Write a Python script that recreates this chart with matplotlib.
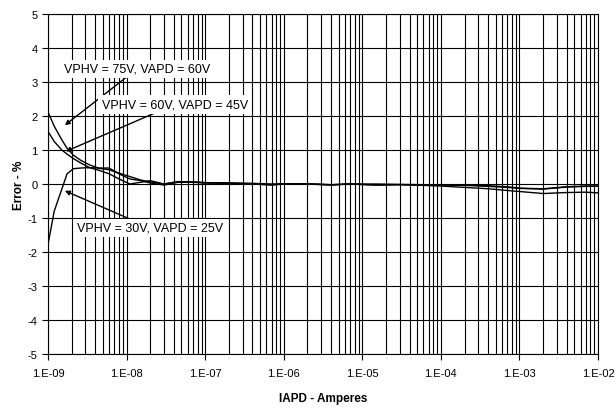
import matplotlib
matplotlib.use("Agg")
import matplotlib.pyplot as plt
from matplotlib.ticker import FixedLocator, FuncFormatter, NullFormatter
import numpy as np

plt.rcParams['font.family'] = ['Liberation Sans', 'DejaVu Sans']

current = [1.0e-9, 1.2e-9, 1.5e-9, 1.75e-9, 2.1e-9, 2.6e-9, 3.4e-9, 4.5e-9, 6e-9, 8e-9,
           1.1e-8, 1.5e-8, 2e-8, 3e-8, 4.5e-8, 7e-8, 1e-7, 2e-7, 4e-7, 7e-7,
           1e-6, 2e-6, 4e-6, 7e-6, 1.5e-5, 3e-5, 6e-5, 1e-4, 2e-4, 4e-4,
           7e-4, 1e-3, 2e-3, 4e-3, 7e-3, 1e-2]

err_75v = [2.12, 1.70, 1.30, 1.05, 0.85, 0.70, 0.56, 0.46, 0.42, 0.32,
           0.22, 0.12, 0.06, 0.0, 0.07, 0.06, 0.04, 0.03, 0.02, 0.0,
           0.01, 0.0, -0.03, 0.0, 0.0, -0.01, -0.02, -0.02, -0.03, -0.05,
           -0.08, -0.12, -0.14, -0.08, -0.06, -0.06]
err_60v = [1.55, 1.25, 1.0, 0.88, 0.75, 0.62, 0.48, 0.40, 0.30, 0.15,
           0.0, 0.05, 0.10, 0.0, 0.07, 0.06, 0.04, 0.03, 0.0, -0.03,
           0.0, 0.01, -0.02, 0.0, -0.03, -0.02, -0.04, -0.06, -0.10, -0.14,
           -0.19, -0.22, -0.28, -0.25, -0.24, -0.26]
err_30v = [-1.78, -0.80, -0.15, 0.30, 0.45, 0.47, 0.48, 0.47, 0.47, 0.30,
           0.15, 0.10, 0.03, -0.03, 0.05, 0.05, 0.03, 0.02, 0.01, -0.02,
           0.0, 0.0, -0.02, 0.0, -0.03, -0.02, -0.02, -0.03, -0.04, -0.07,
           -0.10, -0.13, -0.15, -0.09, -0.07, -0.06]

labels = ["VPHV = 75V, VAPD = 60V", "VPHV = 60V, VAPD = 45V", "VPHV = 30V, VAPD = 25V"]
# (text x, text y) and arrow-tip (x, y) in data units
label_text_pos = [(1.37e-8, 3.39), (4.1e-8, 2.34), (2.0e-8, -1.29)]
label_tip_pos = [(1.64e-9, 1.73), (1.69e-9, 0.96), (1.64e-9, -0.20)]

x_tick_exps = [-9, -8, -7, -6, -5, -4, -3, -2]
x_tick_labels = ["1.E-09", "1.E-08", "1.E-07", "1.E-06", "1.E-05", "1.E-04", "1.E-03", "1.E-02"]
y_ticks = list(range(-5, 6))

x_major = [10.0 ** e for e in x_tick_exps]
x_minor = [m * 10.0 ** e for e in x_tick_exps[:-1] for m in range(2, 10)]

fig = plt.figure(figsize=(6.16, 4.10), dpi=100)
ax = fig.add_axes([0.0779, 0.1341, 0.8929, 0.8293])

for ys in (err_75v, err_60v, err_30v):
    ax.plot(current, ys, color='black', lw=1.0, zorder=3)

ax.set_xscale('log')
ax.set_xlim(1e-9, 1e-2)
ax.set_ylim(-5, 5)

ax.xaxis.set_major_locator(FixedLocator(x_major))
ax.xaxis.set_minor_locator(FixedLocator(x_minor))
ax.xaxis.set_minor_formatter(NullFormatter())
ax.set_xticklabels(x_tick_labels)
ax.yaxis.set_major_locator(FixedLocator(y_ticks))
ax.yaxis.set_major_formatter(FuncFormatter(lambda v, p: "%d" % v))

ax.grid(True, which='major', axis='both', color='black', lw=0.8)
ax.grid(True, which='minor', axis='x', color='black', lw=0.8)
ax.tick_params(axis='both', which='major', labelsize=8, length=4, width=0.8, direction='out', color='black')
ax.tick_params(axis='x', which='minor', length=0)
ax.tick_params(axis='x', which='major', pad=6)
for s in ax.spines.values():
    s.set_color('black')
    s.set_linewidth(0.8)

ax.set_xlabel("IAPD - Amperes", fontsize=8.5, fontweight='bold', labelpad=10)
ax.set_ylabel("Error - %", fontsize=8.5, fontweight='bold', labelpad=2)

for lab, tp, ap in zip(labels, label_text_pos, label_tip_pos):
    ax.annotate(lab, xy=ap, xytext=tp, fontsize=9, ha='center', va='center',
                bbox=dict(boxstyle='square,pad=0.25', fc='white', ec='none'),
                arrowprops=dict(arrowstyle='-|>', color='black', lw=1.0,
                                mutation_scale=7, shrinkA=0, shrinkB=0),
                zorder=5)

fig.savefig("out.png", dpi=100)
